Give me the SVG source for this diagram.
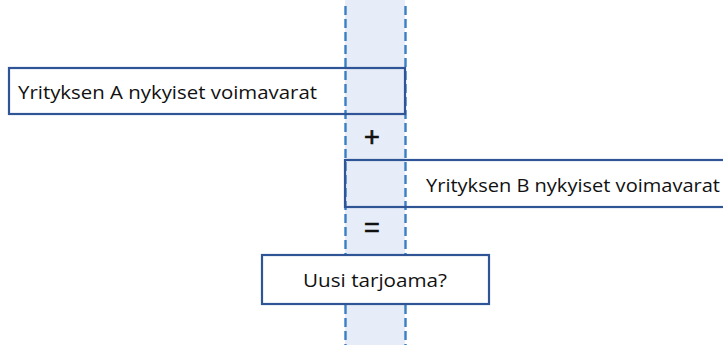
<svg xmlns="http://www.w3.org/2000/svg" width="723" height="345" viewBox="0 0 723 345">
  <style>
    .box { fill: none; stroke: #2f5597; stroke-width: 2.2; }
    .boxw { fill: #ffffff; stroke: #2f5597; stroke-width: 2.2; }
    .guide { stroke: #3a7fc4; stroke-width: 2.4; stroke-dasharray: 9 4; fill: none; }
    .lbl { font-family: "Open Sans", "Liberation Sans", sans-serif; font-size: 17.5px; fill: #111111; }
    .op { font-family: "Liberation Sans", sans-serif; font-size: 27px; fill: #111111; stroke: #111111; stroke-width: 0.7; text-anchor: middle; }
  </style>
  <!-- shared column band -->
  <g id="band">
    <rect x="345" y="0" width="60" height="345" fill="#e6edf8"/>
    <line class="guide" x1="345.5" y1="6" x2="345.5" y2="345"/>
    <line class="guide" x1="405.5" y1="6" x2="405.5" y2="345"/>
  </g>
  <g id="nodeA">
    <rect class="box" x="9" y="68" width="396" height="46"/>
    <text class="lbl" x="18" y="99" textLength="299" lengthAdjust="spacingAndGlyphs">Yrityksen A nykyiset voimavarat</text>
  </g>
  <g id="plus">
    <text class="op" x="372" y="146">+</text>
  </g>
  <g id="nodeB">
    <rect class="box" x="345" y="160" width="390" height="47"/>
    <text class="lbl" x="426" y="192" textLength="294" lengthAdjust="spacingAndGlyphs">Yrityksen B nykyiset voimavarat</text>
  </g>
  <g id="equals">
    <text class="op" x="372" y="237">=</text>
  </g>
  <g id="nodeC">
    <rect class="boxw" x="262" y="255" width="227" height="49"/>
    <text class="lbl" x="303" y="287" textLength="144" lengthAdjust="spacingAndGlyphs">Uusi tarjoama?</text>
  </g>
</svg>
